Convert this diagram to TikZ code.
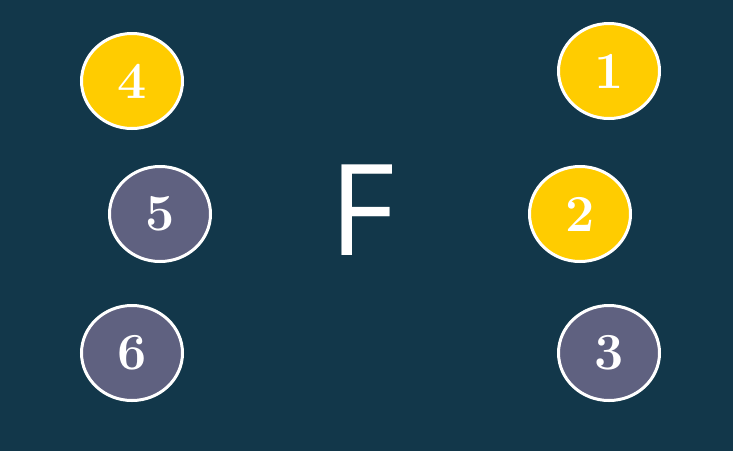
\documentclass[tikz,border=0pt]{standalone}
\usepackage{fontspec}
\usetikzlibrary{shapes.geometric}
\newfontfamily\letterfont{Open Sans}
\definecolor{bgteal}{HTML}{12374A}
\definecolor{goldfill}{HTML}{FFCC00}
\definecolor{slatefill}{HTML}{5F6180}

\begin{document}
\begin{tikzpicture}[x=1pt,y=-1pt,
	spot/.style={ellipse,draw=white,line width=3pt,minimum width=101pt,minimum height=95pt,inner sep=0pt,text=white,font=\fontsize{52}{52}\selectfont\bfseries},
	gold/.style={spot,fill=goldfill},
	slate/.style={spot,fill=slatefill}]
\fill[bgteal] (0,0) rectangle (733,451);
\useasboundingbox (0,0) rectangle (733,451);
\node[gold] (n_4) at (132,81) {4};
\node[slate] (n_5) at (160,214) {5};
\node[slate] (n_6) at (132,353) {6};
\node[gold] (n_1) at (609,71) {1};
\node[gold] (n_2) at (580,214) {2};
\node[slate] (n_3) at (609,353) {3};
\node[text=white,font=\letterfont\fontsize{127}{127}\selectfont] (F) at (362,210) {F};
\end{tikzpicture}
\end{document}
